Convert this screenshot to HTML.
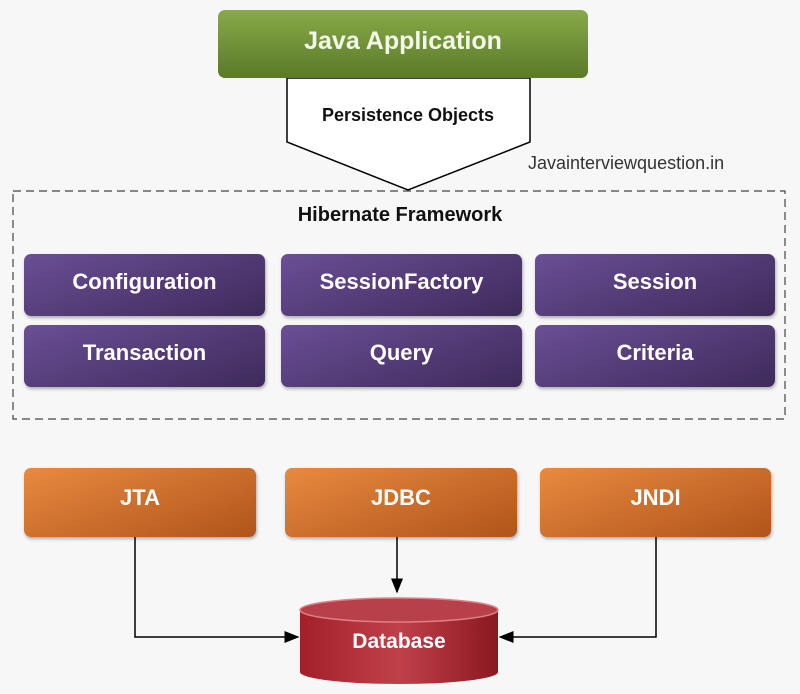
<!DOCTYPE html>
<html><head><style>
body{margin:0;background:#f7f7f7;}
.b{position:absolute;display:flex;align-items:center;justify-content:center;border-radius:7px;font-family:"Liberation Sans",sans-serif;font-weight:bold;color:#fff;box-sizing:border-box;}
.p{background:linear-gradient(160deg,#6a4f96,#3e2a5a);font-size:22px;box-shadow:1px 2px 3px rgba(0,0,0,.3);padding-bottom:6px;}
.o{background:linear-gradient(160deg,#e88a40,#b0541a);font-size:22px;box-shadow:1px 2px 3px rgba(0,0,0,.3);padding-bottom:10px;}
</style></head><body>
<div style="position:relative;width:800px;height:694px;overflow:hidden;">
<svg width="800" height="694" style="position:absolute;left:0;top:0">
<defs><marker id="a" markerWidth="10" markerHeight="10" refX="9" refY="5" orient="auto"><path d="M0,1 L10,5 L0,9 z" fill="#000"/></marker></defs>
<polygon points="287,78 530,78 530,142 408,190 287,142" fill="#fff" stroke="#000" stroke-width="1.5"/>
<rect x="13" y="191" width="772" height="228" fill="none" stroke="#444" stroke-width="1.2" stroke-dasharray="8,5"/>
<path d="M135,537 V637 H298" fill="none" stroke="#000" stroke-width="1.5" marker-end="url(#a)"/>
<path d="M397,537 V592" fill="none" stroke="#000" stroke-width="1.5" marker-end="url(#a)"/>
<path d="M656,537 V637 H500" fill="none" stroke="#000" stroke-width="1.5" marker-end="url(#a)"/>
<defs><linearGradient id="db" x1="0" x2="1"><stop offset="0" stop-color="#a3202a"/><stop offset=".5" stop-color="#c0404a"/><stop offset="1" stop-color="#8a1820"/></linearGradient></defs>
<path d="M300,610 V672 A99,12 0 0 0 498,672 V610 Z" fill="url(#db)"/>
<ellipse cx="399" cy="610" rx="99" ry="12" fill="#b8404a" stroke="#e08088" stroke-width="1.5"/>
<text x="399" y="648" text-anchor="middle" font-family="Liberation Sans,sans-serif" font-size="21" fill="#fff" font-weight="bold">Database</text>
<text x="408" y="121" text-anchor="middle" font-family="Liberation Sans,sans-serif" font-size="18" font-weight="bold" fill="#111">Persistence Objects</text>
<text x="528" y="169" font-family="Liberation Sans,sans-serif" font-size="18" fill="#333">Javainterviewquestion.in</text>
<text x="400" y="221" text-anchor="middle" font-family="Liberation Sans,sans-serif" font-size="20" font-weight="bold" fill="#111">Hibernate Framework</text>
</svg>
<div class="b" style="left:218px;top:10px;width:370px;height:68px;background:linear-gradient(180deg,#88aa48,#5a7a28);font-size:25px;color:#f4f8e8;padding-bottom:6px;">Java Application</div>
<div class="b p" style="left:24px;top:254px;width:241px;height:62px">Configuration</div>
<div class="b p" style="left:281px;top:254px;width:241px;height:62px">SessionFactory</div>
<div class="b p" style="left:535px;top:254px;width:240px;height:62px">Session</div>
<div class="b p" style="left:24px;top:325px;width:241px;height:62px">Transaction</div>
<div class="b p" style="left:281px;top:325px;width:241px;height:62px">Query</div>
<div class="b p" style="left:535px;top:325px;width:240px;height:62px">Criteria</div>
<div class="b o" style="left:24px;top:468px;width:232px;height:69px">JTA</div>
<div class="b o" style="left:285px;top:468px;width:232px;height:69px">JDBC</div>
<div class="b o" style="left:540px;top:468px;width:231px;height:69px">JNDI</div>
</div>
</body></html>
